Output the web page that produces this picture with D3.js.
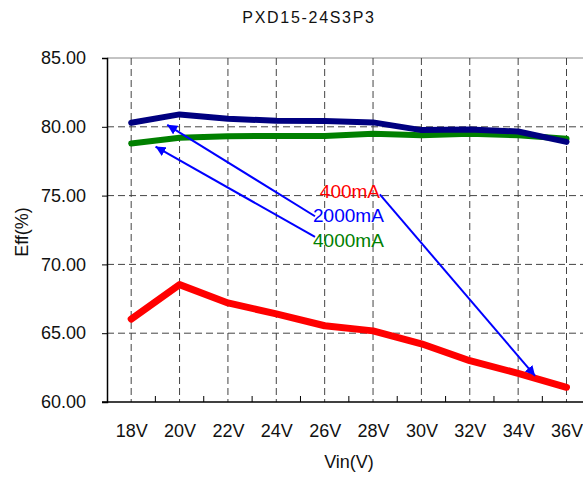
<!DOCTYPE html>
<html><head><meta charset="utf-8">
<script src="https://cdn.jsdelivr.net/npm/d3@7"></script>
<style>
html,body{margin:0;padding:0;background:#fff;}
svg{display:block;font-family:"Liberation Sans",Arial,sans-serif;}
</style></head>
<body>
<svg id="chart" width="583" height="477"></svg>
<script>
const title = "PXD15-24S3P3";
const categories = ["18V","20V","22V","24V","26V","28V","30V","32V","34V","36V"];
const yTicks = [60,65,70,75,80,85];
const seriesNames = ["400mA","2000mA","4000mA"];
const eff400  = [66.03,68.53,67.20,66.41,65.54,65.17,64.23,63.00,62.08,61.07];
const eff2000 = [80.29,80.90,80.58,80.44,80.42,80.32,79.76,79.81,79.66,78.90];
const eff4000 = [78.79,79.20,79.32,79.34,79.34,79.50,79.38,79.50,79.38,79.13];
// annotation label anchors and arrows, in data units (x = category index, y = Eff %)
const labelPos = [[3.90,74.83],[3.76,73.10],[3.76,71.29]];
const arrowFrom = [[5.14,75.09],[3.80,73.50],[3.80,72.00]];
const arrowTo   = [[8.35,61.90],[0.745,80.14],[0.503,78.56]];

const W = 583, H = 477;
const plot = {left:107, right:583, top:58, bottom:402};
const svg = d3.select("#chart");

const x = d3.scalePoint().domain(categories).range([plot.left, plot.left + 483.7]).padding(0.5);
const xi = d3.scaleLinear().domain([0, categories.length-1]).range([x(categories[0]), x(categories[categories.length-1])]);
const y = d3.scaleLinear().domain([60,85]).range([plot.bottom, plot.top]);

// top border
svg.append("line").attr("x1",plot.left).attr("x2",plot.right).attr("y1",y(85)).attr("y2",y(85))
  .attr("stroke","#888").attr("stroke-width",1);

// gridlines
const grid = svg.append("g");
grid.selectAll("line.h").data(yTicks.filter(v=>v>60 && v<85)).join("line")
  .attr("x1",plot.left).attr("x2",plot.right).attr("y1",d=>y(d)).attr("y2",d=>y(d))
  .attr("stroke","#444").attr("stroke-width",1).attr("stroke-dasharray","7,4");
grid.selectAll("line.v").data(categories).join("line")
  .attr("x1",d=>x(d)).attr("x2",d=>x(d)).attr("y1",y(85)).attr("y2",y(60))
  .attr("stroke","#444").attr("stroke-width",1).attr("stroke-dasharray","7,4");

// minor ticks at midpoints
const mids = d3.range(categories.length-1).map(i=>i+0.5);
svg.append("g").selectAll("line").data(mids).join("line")
  .attr("x1",d=>xi(d)).attr("x2",d=>xi(d)).attr("y1",y(60)-6).attr("y2",y(60))
  .attr("stroke","#000").attr("stroke-width",1);

// y axis
const yAxis = d3.axisLeft(y).tickValues(yTicks).tickSize(5).tickPadding(16).tickFormat(d3.format(".2f"));
const gy = svg.append("g").attr("transform",`translate(${plot.left},0)`).call(yAxis);
gy.select(".domain").attr("stroke","#000").attr("stroke-width",1.5);
gy.selectAll(".tick line").attr("stroke","#000");
gy.selectAll("text").attr("font-size",18).attr("fill","#111").attr("font-family","Liberation Sans, Arial, sans-serif");

// x axis
const xAxis = d3.axisBottom(x).tickSize(0).tickPadding(22);
const gx = svg.append("g").attr("transform",`translate(0,${plot.bottom})`).call(xAxis);
gx.select(".domain").remove();
gx.append("line").attr("x1",plot.left-5).attr("x2",plot.right).attr("y1",0).attr("y2",0)
  .attr("stroke","#000").attr("stroke-width",1.5);
gx.selectAll("text").attr("font-size",18).attr("fill","#111").attr("font-family","Liberation Sans, Arial, sans-serif");

// series lines
const lineGen = d3.line().x((d,i)=>x(categories[i])).y(d=>y(d));
const series = [
  {vals:eff4000, color:"#008000", w:6},
  {vals:eff2000, color:"#000080", w:6},
  {vals:eff400,  color:"#ff0000", w:7}
];
svg.append("g").selectAll("path").data(series).join("path")
  .attr("d",d=>lineGen(d.vals)).attr("fill","none")
  .attr("stroke",d=>d.color).attr("stroke-width",d=>d.w)
  .attr("stroke-linejoin","round").attr("stroke-linecap","round");

// arrows
const defs = svg.append("defs");
defs.append("marker").attr("id","ah").attr("viewBox","0 0 10 10").attr("refX",10).attr("refY",5)
  .attr("markerWidth",5).attr("markerHeight",5).attr("markerUnits","strokeWidth").attr("orient","auto")
  .append("path").attr("d","M0,0 L10,5 L0,10 z").attr("fill","#0000ff");
svg.append("g").selectAll("line").data(arrowFrom).join("line")
  .attr("x1",d=>xi(d[0])).attr("y1",d=>y(d[1]))
  .attr("x2",(d,i)=>xi(arrowTo[i][0])).attr("y2",(d,i)=>y(arrowTo[i][1]))
  .attr("stroke","#0000ff").attr("stroke-width",2).attr("marker-end","url(#ah)");

// labels
const labelColors = ["#ff0000","#0000ff","#008000"];
svg.append("g").selectAll("text").data(seriesNames).join("text")
  .attr("x",(d,i)=>xi(labelPos[i][0])).attr("y",(d,i)=>y(labelPos[i][1]))
  .attr("font-size",19).attr("fill",(d,i)=>labelColors[i]).text(d=>d);

// title and axis titles
svg.append("text").attr("x",309).attr("y",23).attr("text-anchor","middle")
  .attr("font-size",16).attr("letter-spacing",1.7).attr("fill","#111").text(title);
svg.append("text").attr("x",349).attr("y",468).attr("text-anchor","middle")
  .attr("font-size",18).attr("fill","#111").text("Vin(V)");
svg.append("text").attr("transform","translate(28,232) rotate(-90)").attr("text-anchor","middle")
  .attr("font-size",18).attr("fill","#111").text("Eff(%)");
</script>
</body></html>
